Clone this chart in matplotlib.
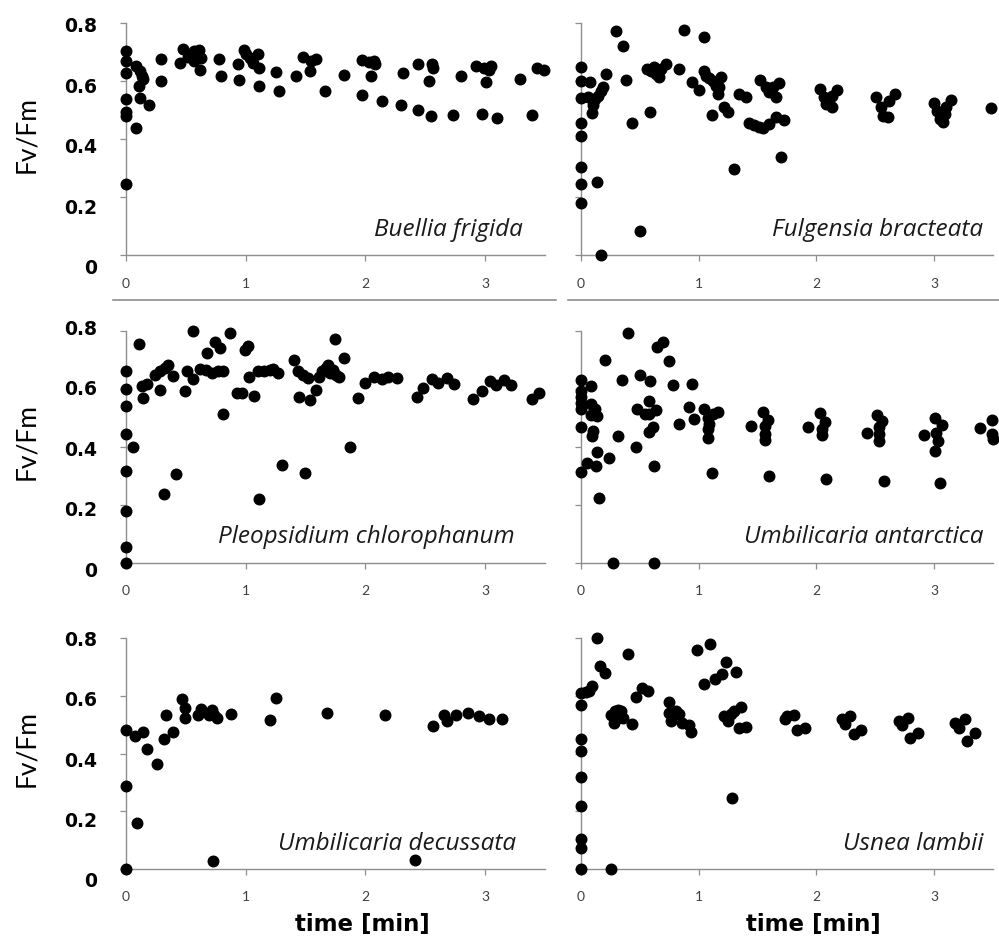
import matplotlib
matplotlib.use("Agg")
import matplotlib.pyplot as plt
from matplotlib.lines import Line2D
from matplotlib.transforms import ScaledTranslation

# ---- data: Fv/Fm versus time [min] for six lichen species ----
buellia_x = [0, 0, 0, 0, 0, 0, 0,
             0.087, 0.087, 0.12, 0.138, 0.108, 0.12, 0.19, 0.13,
             0.293, 0.293,
             0.45, 0.48, 0.52, 0.57, 0.57, 0.61, 0.63, 0.62,
             0.778, 0.793, 0.934, 0.94, 0.987, 1.005, 1.035, 1.065, 1.105, 1.11, 1.11,
             1.254, 1.278, 1.42, 1.48, 1.54, 1.545, 1.59, 1.66, 1.82,
             1.97, 1.97, 2.03, 2.07, 2.08, 2.05, 2.14,
             2.31, 2.30, 2.44, 2.44, 2.53, 2.55, 2.56, 2.565,
             2.73, 2.80, 2.92, 2.97, 3.01, 2.99, 3.03, 3.05, 3.10,
             3.29, 3.39, 3.43, 3.49]
buellia_y = [0.705, 0.67, 0.63, 0.54, 0.495, 0.48, 0.247,
             0.653, 0.44, 0.636, 0.607, 0.584, 0.544, 0.52, 0.62,
             0.676, 0.60,
             0.664, 0.713, 0.686, 0.705, 0.67, 0.71, 0.68, 0.64,
             0.676, 0.62, 0.662, 0.605, 0.708, 0.694, 0.682, 0.665, 0.694, 0.647, 0.584,
             0.632, 0.567, 0.62, 0.685, 0.636, 0.67, 0.678, 0.567, 0.624,
             0.674, 0.555, 0.667, 0.67, 0.66, 0.618, 0.532,
             0.628, 0.518, 0.659, 0.50, 0.603, 0.48, 0.66, 0.645,
             0.486, 0.618, 0.653, 0.489, 0.598, 0.645, 0.64, 0.655, 0.475,
             0.609, 0.483, 0.645, 0.64]

fulgensia_x = [0, 0, 0, 0, 0, 0, 0, 0,
               0.08, 0.06, 0.117, 0.09, 0.105, 0.145, 0.172, 0.186, 0.136, 0.167,
               0.215, 0.30, 0.356, 0.384, 0.435, 0.497, 0.582,
               0.56, 0.596, 0.624, 0.638, 0.661, 0.681, 0.72,
               0.83, 0.878, 0.943, 1.0, 1.042,
               1.042, 1.062, 1.09, 1.119, 1.147, 1.161, 1.189, 1.175,
               1.113, 1.218, 1.246, 1.297, 1.345, 1.401,
               1.424, 1.472, 1.514, 1.548, 1.599, 1.655, 1.726,
               1.523, 1.571, 1.599, 1.627, 1.678, 1.655,
               1.70,
               2.03, 2.065, 2.08, 2.13, 2.136, 2.172,
               2.51, 2.545, 2.565, 2.61, 2.616, 2.667,
               2.997, 3.025, 3.054, 3.076, 3.096, 3.102, 3.147,
               3.48]
fulgensia_y = [0.649, 0.603, 0.543, 0.456, 0.413, 0.306, 0.247, 0.181,
               0.599, 0.546, 0.54, 0.49, 0.52, 0.55, 0.567, 0.58, 0.253, 0.002,
               0.626, 0.773, 0.723, 0.606, 0.457, 0.086, 0.494,
               0.643, 0.637, 0.649, 0.626, 0.617, 0.643, 0.66,
               0.643, 0.777, 0.597, 0.571, 0.755,
               0.635, 0.62, 0.612, 0.603, 0.586, 0.557, 0.614, 0.580,
               0.486, 0.513, 0.494, 0.298, 0.557, 0.545,
               0.456, 0.45, 0.444, 0.44, 0.452, 0.479, 0.467,
               0.605, 0.580, 0.563, 0.580, 0.594, 0.545,
               0.339,
               0.574, 0.545, 0.522, 0.511, 0.551, 0.571,
               0.545, 0.511, 0.482, 0.476, 0.534, 0.557,
               0.525, 0.499, 0.471, 0.459, 0.488, 0.511, 0.536,
               0.509]

pleopsidium_x = [0, 0, 0, 0, 0, 0, 0, 0,
                 0.06, 0.108, 0.139, 0.13, 0.175, 0.24, 0.28, 0.28, 0.32, 0.325, 0.355,
                 0.39, 0.42, 0.49, 0.51, 0.557, 0.56,
                 0.62, 0.672, 0.717, 0.772, 0.808,
                 0.68, 0.74, 0.787, 0.814, 0.868, 0.93, 0.965, 0.99, 1.02, 1.025, 1.067,
                 1.10, 1.155, 1.2, 1.23, 1.266, 1.115, 1.305, 1.405, 1.44, 1.48, 1.447,
                 1.495, 1.52, 1.535, 1.585,
                 1.616, 1.637, 1.667, 1.688, 1.706, 1.727, 1.757, 1.743, 1.78, 1.82,
                 1.87, 1.94, 2.0,
                 2.075, 2.135, 2.189, 2.265,
                 2.43, 2.48, 2.557, 2.608, 2.678, 2.744,
                 2.90, 2.97, 3.04, 3.093, 3.154, 3.22,
                 3.39, 3.45]
pleopsidium_y = [0.0, 0.053, 0.176, 0.314, 0.444, 0.538, 0.599, 0.662,
                 0.397, 0.754, 0.567, 0.607, 0.615, 0.647, 0.661, 0.595, 0.236, 0.67, 0.68,
                 0.644, 0.305, 0.59, 0.661, 0.632, 0.80,
                 0.667, 0.664, 0.653, 0.659, 0.659,
                 0.724, 0.762, 0.739, 0.513, 0.793, 0.586, 0.586, 0.733, 0.748, 0.638, 0.575,
                 0.661, 0.662, 0.664, 0.668, 0.655, 0.218, 0.337, 0.697, 0.66, 0.647, 0.572,
                 0.31, 0.636, 0.561, 0.595,
                 0.639, 0.659, 0.670, 0.681, 0.652, 0.664, 0.647, 0.77, 0.64, 0.705,
                 0.398, 0.567, 0.618,
                 0.639, 0.632, 0.639, 0.636,
                 0.57, 0.603, 0.632, 0.62, 0.635, 0.616,
                 0.563, 0.59, 0.626, 0.613, 0.628, 0.613,
                 0.563, 0.586]

antarctica_x = [0, 0, 0, 0, 0, 0, 0,
                0.054, 0.088, 0.088, 0.116, 0.088, 0.136, 0.102, 0.096, 0.124, 0.136, 0.153,
                0.203, 0.234, 0.27, 0.313, 0.347, 0.398, 0.463, 0.477, 0.497, 0.54, 0.58,
                0.588, 0.58, 0.61, 0.58, 0.616, 0.619, 0.638, 0.644, 0.70, 0.751, 0.78,
                0.83, 0.915, 0.944, 0.963,
                1.048, 1.076, 1.09, 1.076, 1.082, 1.119, 1.161, 1.113,
                1.443, 1.548, 1.585, 1.559, 1.565, 1.565, 1.60,
                1.93, 2.034, 2.073, 2.05, 2.045, 2.085,
                2.43, 2.517, 2.56, 2.531, 2.531, 2.531, 2.57,
                2.91, 3.011, 3.068, 3.017, 3.031, 3.011, 3.05,
                3.39, 3.492, 3.492, 3.497]
antarctica_y = [0.63, 0.59, 0.57, 0.55, 0.53, 0.468, 0.311,
                0.342, 0.61, 0.546, 0.529, 0.509, 0.506, 0.455, 0.437, 0.334, 0.382, 0.224,
                0.70, 0.362, 0.0, 0.435, 0.63, 0.793, 0.397, 0.529, 0.648, 0.512, 0.512,
                0.625, 0.558, 0.468, 0.449, 0.334, 0.0, 0.526, 0.742, 0.76, 0.696, 0.612,
                0.478, 0.537, 0.616, 0.495,
                0.529, 0.5, 0.477, 0.460, 0.431, 0.512, 0.518, 0.307,
                0.472, 0.518, 0.492, 0.469, 0.444, 0.424, 0.299,
                0.466, 0.514, 0.483, 0.460, 0.441, 0.288,
                0.446, 0.509, 0.487, 0.466, 0.443, 0.420, 0.28,
                0.438, 0.498, 0.474, 0.445, 0.418, 0.385, 0.274,
                0.463, 0.493, 0.443, 0.426]

decussata_x = [0, 0, 0, 0.075, 0.09, 0.145, 0.175, 0.256, 0.32, 0.335, 0.39,
               0.47, 0.49, 0.49, 0.60, 0.63, 0.69, 0.72, 0.735, 0.757, 0.726,
               0.874, 1.206, 1.254, 1.68, 2.165, 2.415, 2.565, 2.654, 2.678,
               2.76, 2.86, 2.95, 3.03, 3.14]
decussata_y = [0.0, 0.289, 0.483, 0.46, 0.16, 0.475, 0.414, 0.362, 0.449, 0.532, 0.476,
               0.59, 0.524, 0.558, 0.535, 0.553, 0.535, 0.55, 0.535, 0.524, 0.027,
               0.538, 0.516, 0.591, 0.539, 0.535, 0.03, 0.495, 0.532, 0.512,
               0.535, 0.541, 0.53, 0.52, 0.521]

usnea_x = [0, 0, 0, 0, 0, 0, 0, 0, 0, 0.04, 0.068, 0.093,
           0.136, 0.164, 0.20, 0.251,
           0.257, 0.285, 0.314, 0.342, 0.294, 0.277, 0.328, 0.356,
           0.398, 0.435, 0.463, 0.517, 0.568,
           0.746, 0.751, 0.765, 0.808, 0.836, 0.859, 0.915, 0.935,
           0.983, 1.042, 1.10, 1.138, 1.198, 1.232, 1.316, 1.282,
           1.217, 1.246, 1.274, 1.302, 1.359, 1.345, 1.401,
           1.734, 1.754, 1.81, 1.839, 1.901,
           2.218, 2.246, 2.288, 2.316, 2.381,
           2.70, 2.723, 2.78, 2.791, 2.864,
           3.18, 3.209, 3.26, 3.28, 3.35]
usnea_y = [0.0, 0.072, 0.104, 0.219, 0.32, 0.409, 0.449, 0.567, 0.610, 0.612, 0.618, 0.633,
           0.80, 0.702, 0.679, 0.0,
           0.535, 0.547, 0.549, 0.547, 0.518, 0.506, 0.529, 0.523,
           0.746, 0.503, 0.595, 0.627, 0.618,
           0.579, 0.541, 0.512, 0.547, 0.537, 0.506, 0.5, 0.475,
           0.759, 0.642, 0.78, 0.658, 0.675, 0.717, 0.681, 0.245,
           0.529, 0.514, 0.537, 0.546, 0.560, 0.489, 0.491,
           0.518, 0.529, 0.535, 0.481, 0.489,
           0.518, 0.503, 0.529, 0.466, 0.483,
           0.512, 0.5, 0.523, 0.455, 0.472,
           0.506, 0.489, 0.518, 0.445, 0.472]

species = ["Buellia frigida", "Fulgensia bracteata",
           "Pleopsidium chlorophanum", "Umbilicaria antarctica",
           "Umbilicaria decussata", "Usnea lambii"]
series = [(buellia_x, buellia_y), (fulgensia_x, fulgensia_y),
          (pleopsidium_x, pleopsidium_y), (antarctica_x, antarctica_y),
          (decussata_x, decussata_y), (usnea_x, usnea_y)]

x_ticks = [0, 1, 2, 3]
y_ticks = [0, 0.2, 0.4, 0.6, 0.8]
y_ticklabels = ["0", "0.2", "0.4", "0.6", "0.8"]

# ---- figure layout (pixel based, 999 x 938) ----
W, H = 999, 938
fig = plt.figure(figsize=(W / 100, H / 100), dpi=100)
fig.patch.set_facecolor("white")

col_left = [(126, 419), (581, 412)]          # axis x origin, width in px
row_span = [(23.5, 255.5), (330.5, 562.5), (638, 869)]   # top, bottom in px
label_x_frac = [0.947, 0.976, 0.928, 0.976, 0.932, 0.976]
row_label_shift = [1.0, -3.5, 0.5]

axis_grey = "#8e8e8e"

for i, (name, (xs, ys)) in enumerate(zip(species, series)):
    r, c = divmod(i, 2)
    x0, w = col_left[c]
    top, bot = row_span[r]
    ax = fig.add_axes([x0 / W, 1 - bot / H, w / W, (bot - top) / H])
    ax.plot(xs, ys, linestyle="none", marker="o", markersize=7.6,
            color="black", clip_on=False, zorder=3)
    ax.set_xlim(0, 3.5)
    ax.set_ylim(0, 0.8)
    for s in ("top", "right"):
        ax.spines[s].set_visible(False)
    for s in ("left", "bottom"):
        ax.spines[s].set_color(axis_grey)
        ax.spines[s].set_linewidth(1.0)
    ax.set_xticks(x_ticks)
    ax.set_yticks(y_ticks)
    ax.tick_params(axis="both", direction="out", length=4, width=0.9,
                   color=axis_grey)
    ax.tick_params(axis="x", pad=12, labelsize=10, labelcolor="#404040")
    for lab in ax.get_xticklabels():
        lab.set_family("Lato")
    if c == 0:
        ax.set_yticklabels(y_ticklabels, fontsize=13.5, fontweight="bold",
                           family="DejaVu Sans", color="black")
        ax.tick_params(axis="y", pad=17)
        # tick labels sit on a slightly wider pitch than the axis
        for k, lab in enumerate(ax.get_yticklabels()):
            dy = row_label_shift[r] + (4 - k) * 2.6
            lab.set_transform(lab.get_transform()
                              + ScaledTranslation(0, -dy / 100, fig.dpi_scale_trans))
        ax.set_ylabel("Fv/Fm", fontsize=19, family="Lato", color="black")
        ax.yaxis.set_label_coords(-(126 - 39) / w, 0.52)
    else:
        ax.set_yticklabels([])
    if r == 2:
        ax.set_xlabel("time [min]", fontsize=16.5, fontweight="bold",
                      family="DejaVu Sans", color="black")
        ax.xaxis.set_label_coords(0.565, -0.19)
    ax.text(label_x_frac[i], 0.108, name, transform=ax.transAxes,
            ha="right", va="center", fontsize=17.5, style="italic",
            family="Open Sans", color="#1a1a1a")

# thin separators under the top row
fig.add_artist(Line2D([113 / W, 556 / W], [1 - 300 / H, 1 - 300 / H],
                      color=axis_grey, linewidth=1.2))
fig.add_artist(Line2D([568 / W, 1.0], [1 - 300 / H, 1 - 300 / H],
                      color=axis_grey, linewidth=1.2))

fig.savefig("out.png", dpi=100, facecolor="white")
